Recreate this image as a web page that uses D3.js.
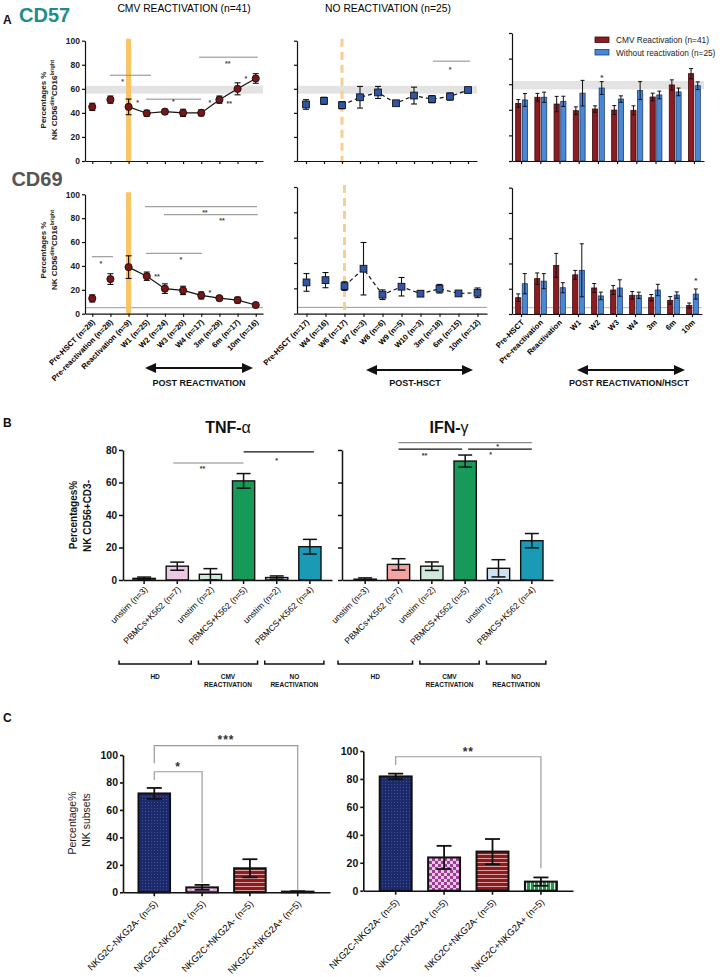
<!DOCTYPE html>
<html><head><meta charset="utf-8">
<script src="https://cdn.jsdelivr.net/npm/d3@7"></script>
<style>body{margin:0;background:#fff}svg{display:block;font-family:"Liberation Sans",Arial,sans-serif}</style>
</head><body><svg id="c" width="726" height="977"></svg>
<script>
// ---------------- DATA ----------------
const cmvCats = ["Pre-HSCT (n=28)","Pre-reactivation (n=28)","Reactivation (n=9)","W1 (n=25)","W2 (n=24)","W3 (n=20)","W4 (n=17)","3m (n=29)","6m (n=17)","10m (n=16)"];
const noCats = ["Pre-HSCT (n=17)","W4 (n=16)","W6 (n=17)","W7 (n=3)","W8 (n=6)","W9 (n=5)","W10 (n=3)","3m (n=18)","6m (n=15)","10m (n=12)"];
const cmpCats = ["Pre-HSCT","Pre-reactivation","Reactivation","W1","W2","W3","W4","3m","6m","10m"];
const seriesNames = ["CMV Reactivation (n=41)","Without reactivation (n=25)"];

const cd57CmvMean = [45, 51, 45, 39.7, 41, 40, 40, 51, 60, 68.6];
const cd57CmvErr  = [3, 3, 6.5, 2.5, 2, 3, 2.5, 3, 5, 4];
const cd57NoMean  = [47, 50, 46.4, 53, 57, 48, 54.4, 51.4, 53.6, 59];
const cd57NoErr   = [4, 3, 3, 9, 5, 1.5, 7, 3, 3, 2];
const cd57BarCmv    = [45, 49.8, 44.5, 39.3, 40.6, 39.8, 39.6, 50, 59.4, 68.2];
const cd57BarCmvErr = [3, 3, 6, 3, 2.5, 3.5, 3.5, 3, 4, 4];
const cd57BarNo     = [47.7, 49.8, 46.6, 53, 57, 48.4, 55, 51.6, 54, 58.8];
const cd57BarNoErr  = [5, 4, 4, 10, 5, 2.5, 7, 3, 3, 3];
const cd57Band = [56, 62.5];

const cd69CmvMean = [12.8, 29, 39, 31.4, 21, 19.5, 15.3, 13, 11.4, 7.3];
const cd69CmvErr  = [3, 4.5, 9.5, 3.5, 4, 3.5, 3, 1, 2.5, 1];
const cd69NoMean  = [24.7, 26.5, 21.8, 35.5, 15, 21.3, 15.8, 19.7, 16, 16.5];
const cd69NoErr   = [7, 6, 3.4, 20.7, 3.8, 7.3, 2, 3.4, 1.5, 3.8];
const cd69BarCmv    = [12.9, 28, 38.5, 31, 20.6, 19, 14.8, 12.9, 10.8, 6.7];
const cd69BarCmvErr = [3, 4.5, 9.5, 3.5, 3.5, 3.5, 3, 2.5, 3, 2];
const cd69BarNo     = [24, 26, 20.8, 34.6, 14.3, 20.6, 14.8, 19, 15, 15.8];
const cd69BarNoErr  = [8, 6, 4, 21, 3, 6.5, 2.5, 4.5, 2.5, 4];
const cd69Ref = 5;

const yTicksA = [0, 20, 40, 60, 80, 100];

const cytoCats = ["unstim (n=3)","PBMCs+K562 (n=7)","unstim (n=2)","PBMCS+K562 (n=5)","unstim (n=2)","PBMCS+K562 (n=4)"];
const tnfMean = [1, 8.5, 3.5, 61, 1.5, 20.5];
const tnfErr  = [0.8, 2.5, 3.5, 4.5, 1, 4.5];
const ifnMean = [0.5, 9.6, 8.5, 73.2, 7.2, 24.2];
const ifnErr  = [0.8, 3.5, 2.6, 3.7, 5.3, 4.4];
const yTicksB = [0, 20, 40, 60, 80];
const cytoGroups = [["HD"], ["CMV","REACTIVATION"], ["NO","REACTIVATION"]];

const nkCats = ["NKG2C-NKG2A- (n=5)","NKG2C-NKG2A+ (n=5)","NKG2C+NKG2A- (n=5)","NKG2C+NKG2A+ (n=5)"];
const nkLeftMean  = [72, 3.6, 17.5, 0.5];
const nkLeftErr   = [4, 1.8, 6.6, 0.3];
const nkRightMean = [81.8, 23.8, 28, 6.5];
const nkRightErr  = [2, 8.3, 9, 3];
const yTicksC = [0, 20, 40, 60, 80, 100];

// ---------------- HELPERS ----------------
const svg = d3.select('#c');
const FONT = '"Liberation Sans",Arial,sans-serif';

function txt(g, x, y, s, o = {}) {
  return g.append('text').attr('x', x).attr('y', y).text(s)
    .attr('font-size', o.fs || 8).attr('font-weight', o.fw || 'normal')
    .attr('fill', o.fill || '#111').attr('text-anchor', o.anchor || 'middle');
}
function star(g, x, yc, s, fs = 8, fill = '#333') {
  txt(g, x, yc + fs * 0.62, s, {fs, fw: 'bold', fill});
}
function rotLabels(g, xs, labels, y, fs, fw, dx = 3) {
  labels.forEach((t, i) => {
    g.append('text').attr('transform', `translate(${xs[i] + dx},${y}) rotate(-45)`)
      .attr('text-anchor', 'end').attr('font-size', fs).attr('font-weight', fw).attr('fill', '#000').text(t);
  });
}
function styleAxis(ax, w = 1.2) {
  ax.select('.domain').attr('stroke', '#111').attr('stroke-width', w);
  ax.selectAll('.tick line').attr('stroke', '#111').attr('stroke-width', w);
}
function errBar(g, x, yTop, yBot, cap, w = 1.1) {
  g.append('line').attr('x1', x).attr('x2', x).attr('y1', yTop).attr('y2', yBot).attr('stroke', '#111').attr('stroke-width', w);
  g.append('line').attr('x1', x - cap / 2).attr('x2', x + cap / 2).attr('y1', yTop).attr('y2', yTop).attr('stroke', '#111').attr('stroke-width', w);
  g.append('line').attr('x1', x - cap / 2).attr('x2', x + cap / 2).attr('y1', yBot).attr('y2', yBot).attr('stroke', '#111').attr('stroke-width', w);
}
function arrow(g, x0, x1, y) {
  g.append('line').attr('x1', x0 + 6).attr('x2', x1 - 6).attr('y1', y).attr('y2', y).attr('stroke', '#111').attr('stroke-width', 1.8);
  g.append('polygon').attr('points', `${x0},${y} ${x0 + 11},${y - 5} ${x0 + 11},${y + 5}`).attr('fill', '#111');
  g.append('polygon').attr('points', `${x1},${y} ${x1 - 11},${y - 5} ${x1 - 11},${y + 5}`).attr('fill', '#111');
}
function yLabelA(g, cx, cy) {
  g.append('text').attr('transform', `translate(${cx - 5},${cy}) rotate(-90)`).attr('text-anchor', 'middle')
    .attr('font-size', 8).attr('font-weight', 'bold').attr('fill', '#222').text('Percentages %');
  const t2 = g.append('text').attr('transform', `translate(${cx + 6},${cy}) rotate(-90)`).attr('text-anchor', 'middle')
    .attr('font-size', 8).attr('font-weight', 'bold').attr('fill', '#222');
  t2.append('tspan').text('NK CD56');
  t2.append('tspan').attr('font-size', 5.5).attr('dy', -3).text('dim');
  t2.append('tspan').attr('dy', 3).text('CD16');
  t2.append('tspan').attr('font-size', 5.5).attr('dy', -3).text('bright');
}

// line (time course) panel
function linePanel(o) {
  const g = svg.append('g');
  const x = d3.scalePoint().domain(o.cats).range([o.x0, o.x1]).padding(o.pad);
  const y = d3.scaleLinear().domain([0, 100]).range([o.yb, o.yt]);
  const xi = i => x(o.cats[0]) + i * x.step();
  if (o.band) g.append('rect').attr('x', o.x0).attr('width', o.x1 - o.x0)
    .attr('y', y(o.band[1])).attr('height', y(o.band[0]) - y(o.band[1])).attr('fill', '#e3e3e3');
  if (o.ref != null) g.append('line').attr('x1', o.x0).attr('x2', o.x1).attr('y1', y(o.ref)).attr('y2', y(o.ref))
    .attr('stroke', '#9a9a9a').attr('stroke-width', 1);
  const vx = x(o.cats[o.vIdx]);
  g.append('line').attr('x1', vx).attr('x2', vx).attr('y1', o.yt - 2).attr('y2', o.yb)
    .attr('stroke', o.vColor).attr('stroke-width', o.vW).attr('stroke-dasharray', o.vDash || null);
  const ay = g.append('g').attr('transform', `translate(${o.x0},0)`)
    .call(d3.axisLeft(y).tickValues(yTicksA).tickSize(3).tickSizeOuter(0).tickPadding(2).tickFormat(o.yLabels ? d3.format('d') : ''));
  styleAxis(ay);
  ay.selectAll('text').attr('font-size', 8.5).attr('font-weight', 'bold').attr('fill', '#222').attr('font-family', FONT);
  const ax = g.append('g').attr('transform', `translate(0,${o.yb})`)
    .call(d3.axisBottom(x).tickSize(3).tickSizeOuter(0).tickFormat(''));
  styleAxis(ax);
  if (o.xLabels) rotLabels(g, o.cats.map(c => x(c)), o.cats, o.yb + 9, 7.7, 'bold');
  const line = d3.line().x((d, i) => x(o.cats[i + o.lineFrom])).y(d => y(d));
  g.append('path').datum(o.mean.slice(o.lineFrom)).attr('d', line).attr('fill', 'none')
    .attr('stroke', '#111').attr('stroke-width', 1.2).attr('stroke-dasharray', o.dashed ? '4,3' : null);
  o.mean.forEach((m, i) => errBar(g, x(o.cats[i]), y(m + o.err[i]), y(m - o.err[i]), 6));
  o.mean.forEach((m, i) => {
    const cx = x(o.cats[i]), cy = y(m);
    if (o.marker === 'circle') g.append('circle').attr('cx', cx).attr('cy', cy).attr('r', 3.6).attr('fill', '#7a1416').attr('stroke', '#111').attr('stroke-width', 0.9);
    else g.append('rect').attr('x', cx - 3.4).attr('y', cy - 3.4).attr('width', 6.8).attr('height', 6.8).attr('fill', '#2f56a6').attr('stroke', '#111').attr('stroke-width', 0.9);
  });
  (o.sigLines || []).forEach(s => g.append('line').attr('x1', xi(s[0])).attr('x2', xi(s[1])).attr('y1', y(s[2])).attr('y2', y(s[2]))
    .attr('stroke', '#8a8a8a').attr('stroke-width', 1));
  (o.stars || []).forEach(s => star(g, xi(s[0]), y(s[1]), s[2], 7, '#444'));
  return {g, x, y};
}

// grouped comparison bars
function cmpPanel(o) {
  const g = svg.append('g');
  const x = d3.scaleBand().domain(cmpCats).range([o.x0, o.x1]);
  const xs = d3.scaleBand().domain(seriesNames).range([0, x.bandwidth()]).paddingInner(0.22).paddingOuter(0.55);
  const y = d3.scaleLinear().domain([0, 100]).range([o.yb, o.yt]);
  if (o.band) g.append('rect').attr('x', o.x0).attr('width', o.x1 - o.x0)
    .attr('y', y(o.band[1])).attr('height', y(o.band[0]) - y(o.band[1])).attr('fill', '#e3e3e3');
  if (o.ref != null) g.append('line').attr('x1', o.x0).attr('x2', o.x1).attr('y1', y(o.ref)).attr('y2', y(o.ref))
    .attr('stroke', '#c4c4c4').attr('stroke-width', 1.2);
  const sets = [[o.cmv, o.cmvErr, '#8c1c22', '#3a0a0a'], [o.no, o.noErr, '#4a88d6', '#1d3c6e']];
  sets.forEach((s, k) => {
    s[0].forEach((v, i) => {
      const bx = x(cmpCats[i]) + xs(seriesNames[k]);
      g.append('rect').attr('x', bx).attr('width', xs.bandwidth()).attr('y', y(v)).attr('height', y(0) - y(v))
        .attr('fill', s[2]).attr('stroke', s[3]).attr('stroke-width', 0.8);
      errBar(g, bx + xs.bandwidth() / 2, y(v + s[1][i]), y(v - s[1][i]), 4, 1);
    });
  });
  const ay = g.append('g').attr('transform', `translate(${o.x0},0)`)
    .call(d3.axisLeft(y).tickValues(yTicksA).tickSize(3).tickSizeOuter(0).tickFormat(''));
  styleAxis(ay);
  const ax = g.append('g').attr('transform', `translate(0,${o.yb})`)
    .call(d3.axisBottom(x).tickSize(3).tickSizeOuter(0).tickFormat(''));
  styleAxis(ax);
  if (o.xLabels) rotLabels(g, cmpCats.map(c => x(c) + x.bandwidth() / 2), cmpCats, o.yb + 9, 7.7, 'bold');
  (o.stars || []).forEach(s => {
    const sx = x(cmpCats[s[0]]) + xs(seriesNames[s[1]]) + xs.bandwidth() / 2;
    star(g, sx, y(s[2]), '*', 8, '#333');
  });
  return {g, x, xs, y};
}

// cytokine bars
function cytoPanel(o) {
  const g = svg.append('g');
  const x = d3.scaleBand().domain(d3.range(cytoCats.length)).range([o.b0, o.b1]).paddingInner(0.33);
  const y = d3.scaleLinear().domain([0, 80]).range([580, 450]);
  o.mean.forEach((v, i) => {
    g.append('rect').attr('x', x(i)).attr('width', x.bandwidth()).attr('y', y(v)).attr('height', y(0) - y(v))
      .attr('fill', o.colors[i]).attr('stroke', '#111').attr('stroke-width', 1.4);
  });
  o.mean.forEach((v, i) => errBar(g, x(i) + x.bandwidth() / 2, y(v + o.err[i]), y(Math.max(0, v - o.err[i])), 14, 1.5));
  const ay = g.append('g').attr('transform', `translate(${o.x0},0)`)
    .call(d3.axisLeft(y).tickValues(yTicksB).tickSize(4).tickSizeOuter(0).tickPadding(2).tickFormat(o.yLabels ? d3.format('d') : ''));
  styleAxis(ay, 1.5);
  ay.selectAll('text').attr('font-size', 10).attr('font-weight', 'bold').attr('fill', '#111').attr('font-family', FONT);
  const ax = g.append('g').attr('transform', `translate(0,580)`)
    .call(d3.axisBottom(d3.scaleLinear().domain([0, 1]).range([o.x0, o.x1])).tickValues([]).tickSizeOuter(0));
  styleAxis(ax, 1.5);
  const xc = i => x(i) + x.bandwidth() / 2;
  cytoCats.forEach((c, i) => {
    g.append('line').attr('x1', xc(i)).attr('x2', xc(i)).attr('y1', 580).attr('y2', 584).attr('stroke', '#111').attr('stroke-width', 1.5);
  });
  rotLabels(g, cytoCats.map((c, i) => xc(i)), cytoCats, 590, 8.6, 'normal', 4);
  // brackets under the groups
  const spans = [[0, 1], [2, 3], [4, 5]];
  spans.forEach((sp, k) => {
    const xa = (k === 0 ? o.x0 - 4 : xc(sp[0]) - 12), xb = xc(sp[1]) + 14;
    g.append('path').attr('d', `M${xa},${660.5} V${664} H${xb} V${660.5}`).attr('fill', 'none').attr('stroke', '#111').attr('stroke-width', 1.5);
    const cx = (xa + xb) / 2;
    cytoGroups[k].forEach((t, j) => txt(g, cx, 679 + j * 8, t, {fs: 6.5, fw: 'bold'}));
  });
  const ti = g.append('text').attr('x', o.titleX).attr('y', 433).attr('text-anchor', 'middle').attr('font-size', 16).attr('fill', '#111');
  ti.append('tspan').attr('font-weight', 'bold').text(o.title[0]);
  ti.append('tspan').attr('font-weight', 'normal').text(o.title[1]);
  (o.sig || []).forEach(s => {
    g.append('line').attr('x1', xc(s[0]) + (s[4] || 0)).attr('x2', xc(s[1]) + (s[5] || 0)).attr('y1', y(s[2])).attr('y2', y(s[2]))
      .attr('stroke', s[3]).attr('stroke-width', 1.2);
  });
  (o.stars || []).forEach(s => star(g, xc(s[0]) + s[1], y(s[2]), s[3], 7, '#333'));
  return {g, x, y};
}

// NK subset bars
function nkPanel(o) {
  const g = svg.append('g');
  const x = d3.scaleBand().domain(nkCats).range([o.b0, o.b1]).paddingInner(0.34);
  const y = d3.scaleLinear().domain([0, 100]).range([o.yb, o.yt]);
  const fills = ['url(#pNavy)', o.checker, 'url(#pRed)', 'url(#pGreen)'];
  o.mean.forEach((v, i) => {
    g.append('rect').attr('x', x(nkCats[i])).attr('width', x.bandwidth()).attr('y', y(v)).attr('height', y(0) - y(v))
      .attr('fill', fills[i]).attr('stroke', '#111').attr('stroke-width', 2);
  });
  o.mean.forEach((v, i) => errBar(g, x(nkCats[i]) + x.bandwidth() / 2, y(v + o.err[i]), y(Math.max(0, v - o.err[i])), 15, 1.8));
  const ay = g.append('g').attr('transform', `translate(${o.x0},0)`)
    .call(d3.axisLeft(y).tickValues(yTicksC).tickSize(3).tickSizeOuter(0).tickPadding(2).tickFormat(d3.format('d')));
  styleAxis(ay, 1.6);
  ay.selectAll('text').attr('font-size', 10.5).attr('font-weight', 'bold').attr('fill', '#111').attr('font-family', FONT);
  const ax = g.append('g').attr('transform', `translate(0,${o.yb})`)
    .call(d3.axisBottom(d3.scaleLinear().domain([0, 1]).range([o.x0, o.x1])).tickValues([]).tickSizeOuter(0));
  styleAxis(ax, 1.6);
  const xc = i => x(nkCats[i]) + x.bandwidth() / 2;
  nkCats.forEach((c, i) => g.append('line').attr('x1', xc(i)).attr('x2', xc(i)).attr('y1', o.yb).attr('y2', o.yb + 4).attr('stroke', '#111').attr('stroke-width', 1.6));
  rotLabels(g, nkCats.map((c, i) => xc(i)), nkCats, o.yb + 12, 9.3, 'normal', 4);
  (o.brackets || []).forEach(b => {
    g.append('path').attr('d', `M${xc(b[0])},${y(b[3])} V${y(b[2])} H${xc(b[1])} V${y(b[4])}`)
      .attr('fill', 'none').attr('stroke', '#9a9a9a').attr('stroke-width', 1.2);
    g.append('text').attr('x', (xc(b[0]) + xc(b[1])) / 2 + (b[7] || 0)).attr('y', y(b[5]) + 5).attr('text-anchor', 'middle')
      .attr('font-size', 12).attr('font-weight', 'bold').attr('letter-spacing', 1).attr('fill', '#333').text(b[6]);
  });
  return {g, x, y};
}

// ---------------- PATTERNS ----------------
const defs = svg.append('defs');
function pat(id, w, h, bg, draw) {
  const p = defs.append('pattern').attr('id', id).attr('patternUnits', 'userSpaceOnUse').attr('width', w).attr('height', h);
  p.append('rect').attr('width', w).attr('height', h).attr('fill', bg);
  draw(p);
}
pat('pNavy', 3, 3, '#1d2a6a', p => p.append('rect').attr('x', 1).attr('y', 1).attr('width', 1).attr('height', 1).attr('fill', '#3d4f9e'));
pat('pCheck', 6, 6, '#e6c6e2', p => { p.append('rect').attr('width', 3).attr('height', 3).attr('fill', '#9b3d93'); p.append('rect').attr('x', 3).attr('y', 3).attr('width', 3).attr('height', 3).attr('fill', '#9b3d93'); });
pat('pPink', 6, 3, '#d7a6d4', p => p.append('rect').attr('x', 0).attr('y', 1).attr('width', 3).attr('height', 1).attr('fill', '#f3e0f0'));
pat('pRed', 4, 4, '#8c1b1e', p => p.append('rect').attr('x', 0).attr('y', 2).attr('width', 4).attr('height', 1).attr('fill', '#d8a0a0'));
pat('pGreen', 4, 4, '#1f9a4c', p => p.append('rect').attr('x', 2).attr('y', 0).attr('width', 1).attr('height', 4).attr('fill', '#d6f0dc'));

// ---------------- PANEL A ----------------
const gA = svg.append('g');
txt(gA, 3, 24, 'A', {fs: 12, fw: 'bold', anchor: 'start'});
txt(gA, 19, 22, 'CD57', {fs: 20, fw: 'bold', anchor: 'start', fill: '#1f8c8c'});
txt(gA, 37, 186, 'CD69', {fs: 20, fw: 'bold', anchor: 'middle', fill: '#555'});
txt(gA, 184, 12, 'CMV REACTIVATION (n=41)', {fs: 10.3, fw: 'normal', fill: '#000'});
txt(gA, 388, 12, 'NO REACTIVATION (n=25)', {fs: 10.3, fw: 'normal', fill: '#000'});
yLabelA(gA, 51, 100);
yLabelA(gA, 51, 250);

linePanel({cats: cmvCats, x0: 85, x1: 263, pad: 0.4, yb: 161, yt: 40.7, band: cd57Band, vIdx: 2, vColor: '#f9c463', vW: 5,
  yLabels: true, mean: cd57CmvMean, err: cd57CmvErr, lineFrom: 2, marker: 'circle',
  sigLines: [[0.97, 3.23, 71.3], [2.96, 5.99, 51.4], [5.88, 9.12, 86.3]],
  stars: [[1.67, 68, '*'], [4.46, 50.6, '*'], [7.46, 82.4, '**'], [2.5, 50, '*'], [6.48, 50, '*'], [7.54, 49.5, '**'], [8.46, 70.5, '*']]});
linePanel({cats: noCats, x0: 297, x1: 477, pad: 0.5, yb: 161, yt: 40.7, band: cd57Band, vIdx: 2, vColor: '#fbcd92', vW: 3, vDash: '8,5',
  mean: cd57NoMean, err: cd57NoErr, lineFrom: 2, marker: 'square', dashed: true,
  sigLines: [[7.06, 9.11, 83]], stars: [[8, 78, '*']]});
cmpPanel({x0: 512, x1: 704, yb: 161, yt: 33, band: cd57Band, cmv: cd57BarCmv, cmvErr: cd57BarCmvErr, no: cd57BarNo, noErr: cd57BarNoErr,
  stars: [[4, 1, 67]]});

// legend
const lg = svg.append('g');
[['#8c1c22', '#3a0a0a'], ['#4a88d6', '#1d3c6e']].forEach((c, i) => {
  lg.append('rect').attr('x', 595).attr('y', 37 + i * 12.5).attr('width', 14).attr('height', 5.5).attr('fill', c[0]).attr('stroke', c[1]).attr('stroke-width', 0.8);
  txt(lg, 616, 43 + i * 12.5, seriesNames[i], {fs: 8.3, anchor: 'start', fill: '#222'});
});

linePanel({cats: cmvCats, x0: 85, x1: 263, pad: 0.4, yb: 313.7, yt: 194.3, ref: cd69Ref, vIdx: 2, vColor: '#f9c463', vW: 5,
  yLabels: true, xLabels: true, mean: cd69CmvMean, err: cd69CmvErr, lineFrom: 2, marker: 'circle',
  sigLines: [[-0.02, 1.14, 47.7], [2.96, 6.04, 50.6], [2.9, 9.07, 89.6], [3.95, 9.12, 82.9]],
  stars: [[0.48, 43.3, '*'], [4.88, 46.6, '*'], [6.2, 86, '**'], [7.14, 79.3, '**'], [3.56, 32.4, '**'], [6.48, 19, '*']]});
linePanel({cats: noCats, x0: 297, x1: 487, pad: 0.5, yb: 313.7, yt: 187, ref: cd69Ref, vIdx: 2, vColor: '#fbcd92', vW: 3, vDash: '8,5',
  xLabels: true, mean: cd69NoMean, err: cd69NoErr, lineFrom: 2, marker: 'square', dashed: true});
cmpPanel({x0: 512, x1: 702, yb: 314, yt: 187.7, ref: cd69Ref, cmv: cd69BarCmv, cmvErr: cd69BarCmvErr, no: cd69BarNo, noErr: cd69BarNoErr,
  xLabels: true, stars: [[9, 1, 28.5]]});

arrow(gA, 145, 253, 368);
arrow(gA, 366, 473, 370);
arrow(gA, 577, 685, 370);
txt(gA, 199, 386, 'POST REACTIVATION', {fs: 9, fw: 'bold'});
txt(gA, 415, 386, 'POST-HSCT', {fs: 9, fw: 'bold'});
txt(gA, 629, 386, 'POST REACTIVATION/HSCT', {fs: 9, fw: 'bold'});

// ---------------- PANEL B ----------------
const gB = svg.append('g');
txt(gB, 3, 427, 'B', {fs: 12, fw: 'bold', anchor: 'start'});
gB.append('text').attr('transform', 'translate(77,515) rotate(-90)').attr('text-anchor', 'middle').attr('font-size', 10).attr('font-weight', 'bold').attr('fill', '#111').text('Percentages%');
gB.append('text').attr('transform', 'translate(91,516) rotate(-90)').attr('text-anchor', 'middle').attr('font-size', 10).attr('font-weight', 'bold').attr('fill', '#111').text('NK CD56+CD3-');

cytoPanel({x0: 123, x1: 332, b0: 133, b1: 321, mean: tnfMean, err: tnfErr, yLabels: true, title: ['TNF-', 'α'], titleX: 228,
  colors: ['#cfc8ea', '#ecc9e3', '#cfe9dd', '#17995a', '#cfe1f3', '#1b9ab6'],
  sig: [[1, 3, 72, '#8a8a8a', -4, 0], [3, 5, 78.8, '#111', 0, 4]],
  stars: [[2, -8, 70, '**'], [4, 0, 74.5, '*']]});
cytoPanel({x0: 342, x1: 553, b0: 354, b1: 543, mean: ifnMean, err: ifnErr, title: ['IFN-', 'γ'], titleX: 449,
  colors: ['#cfc8ea', '#f4a3a3', '#cfe9dd', '#17995a', '#cfe2f4', '#1b9ab6'],
  sig: [[1, 5, 84.5, '#8a8a8a', 0, 0], [1, 3, 80.5, '#111', 0, -3], [3, 5, 80.5, '#111', 3, 0]],
  stars: [[1, 26, 77.5, '**'], [4, -8, 78.5, '*'], [4, -1, 83, '*']]});

// ---------------- PANEL C ----------------
const gC = svg.append('g');
txt(gC, 3, 722, 'C', {fs: 12, fw: 'bold', anchor: 'start'});
gC.append('text').attr('transform', 'translate(76,823) rotate(-90)').attr('text-anchor', 'middle').attr('font-size', 10.5).attr('fill', '#222').text('Percentage%');
gC.append('text').attr('transform', 'translate(90,820) rotate(-90)').attr('text-anchor', 'middle').attr('font-size', 10.5).attr('fill', '#222').text('NK subsets');

nkPanel({x0: 123, x1: 330, b0: 138.5, b1: 313.5, yb: 892.3, yt: 755, mean: nkLeftMean, err: nkLeftErr, checker: 'url(#pPink)',
  brackets: [[0, 3, 106.8, 94, 1.7, 111.5, '***', 0], [0, 1, 87.8, 81.8, 7, 92, '*', 0]]});
nkPanel({x0: 363.3, x1: 573, b0: 379.7, b1: 556.9, yb: 890.7, yt: 751, mean: nkRightMean, err: nkRightErr, checker: 'url(#pCheck)',
  brackets: [[0, 3, 95.9, 90, 16, 100, '**', 0]]});
</script></body></html>
